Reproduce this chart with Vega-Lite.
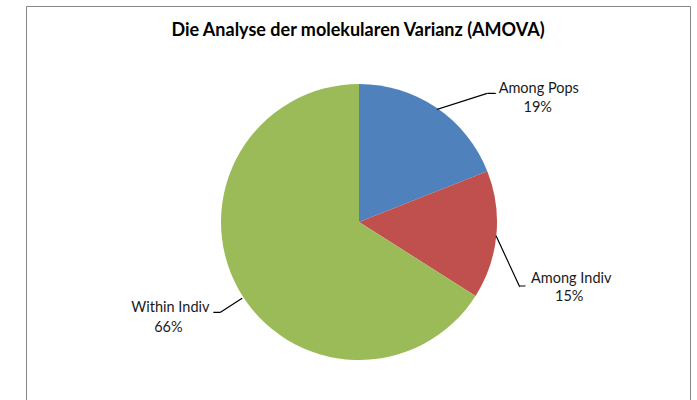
{
  "$schema": "https://vega.github.io/schema/vega-lite/v6.json",
  "autosize": {"type": "none"},
  "width": 664,
  "height": 394,
  "padding": {"left": 26, "top": 6, "right": 7, "bottom": 0},
  "background": "white",
  "view": {"stroke": "#878787", "strokeWidth": 1},
  "config": {"view": {"stroke": "#878787", "strokeWidth": 1}},
  "title": {
    "text": "Die Analyse der molekularen Varianz (AMOVA)",
    "font": "Lato",
    "fontSize": 18,
    "fontWeight": "bold",
    "color": "#000000",
    "anchor": "middle",
    "frame": "group",
    "orient": "top",
    "baseline": "middle",
    "offset": -43
  },
  "data": {
    "values": [
      {"source": "Among Pops", "share": 0.19},
      {"source": "Among Indiv", "share": 0.15},
      {"source": "Within Indiv", "share": 0.66}
    ]
  },
  "transform": [
    {"window": [{"op": "row_number", "as": "rank"}]},
    {"stack": "share", "groupby": [], "sort": [{"field": "rank", "order": "ascending"}], "as": ["s0", "s1"]}
  ],
  "layer": [
    {
      "mark": {"type": "arc", "radius": 138, "xOffset": 1, "yOffset": 19},
      "encoding": {
        "theta": {"field": "s0", "type": "quantitative"},
        "theta2": {"field": "s1"},
        "color": {
          "field": "source",
          "type": "nominal",
          "scale": {"domain": ["Among Pops", "Among Indiv", "Within Indiv"], "range": ["#4F81BD", "#C0504D", "#9BBB59"]},
          "legend": null
        }
      }
    },
    {
      "mark": {"type": "arc", "radius": 181.7, "radius2": 137.2, "padAngle": 0.7508, "thetaOffset": -0.189, "theta2Offset": 0.0672, "filled": false, "stroke": "#000000", "strokeWidth": 1.2, "strokeDash": [0, 90, 52.5, 3000], "xOffset": 1, "yOffset": 19},
      "transform": [{"filter": "datum.source === 'Among Pops'"}],
      "encoding": {"theta": {"field": "s0", "type": "quantitative"}, "theta2": {"field": "s1"}}
    },
    {
      "mark": {"type": "arc", "radius": 187.2, "radius2": 181.7, "padAngle": 1.032, "thetaOffset": -0.1292, "theta2Offset": 0.377, "filled": false, "stroke": "#000000", "strokeWidth": 1.2, "strokeDash": [0, 34.26, 7.7, 3000], "xOffset": 1, "yOffset": 19},
      "transform": [{"filter": "datum.source === 'Among Pops'"}],
      "encoding": {"theta": {"field": "s0", "type": "quantitative"}, "theta2": {"field": "s1"}}
    },
    {
      "mark": {"type": "arc", "radius": 172.6, "radius2": 137.7, "padAngle": 1.1338, "thetaOffset": -0.6859, "theta2Offset": 0.5716, "filled": false, "stroke": "#000000", "strokeWidth": 1.2, "strokeDash": [0, 118.2, 55.4, 3000], "xOffset": 1, "yOffset": 19},
      "transform": [{"filter": "datum.source === 'Among Indiv'"}],
      "encoding": {"theta": {"field": "s0", "type": "quantitative"}, "theta2": {"field": "s1"}}
    },
    {
      "mark": {"type": "arc", "radius": 177.9, "radius2": 172.6, "padAngle": 0.5223, "thetaOffset": 1.277, "theta2Offset": -0.5655, "filled": false, "stroke": "#000000", "strokeWidth": 1.2, "strokeDash": [0, 29.14, 5.7, 3000], "xOffset": 1, "yOffset": 19},
      "transform": [{"filter": "datum.source === 'Among Indiv'"}],
      "encoding": {"theta": {"field": "s0", "type": "quantitative"}, "theta2": {"field": "s1"}}
    },
    {
      "mark": {"type": "arc", "radius": 165.8, "radius2": 140, "thetaOffset": 1.9984, "theta2Offset": -2.1485, "filled": false, "stroke": "#000000", "strokeWidth": 1.2, "xOffset": 1, "yOffset": 19},
      "transform": [{"filter": "datum.source === 'Within Indiv'"}],
      "encoding": {"theta": {"field": "s0", "type": "quantitative"}, "theta2": {"field": "s1"}}
    },
    {
      "mark": {"type": "arc", "radius": 171.4, "radius2": 165.8, "padAngle": 0.7767, "thetaOffset": 1.2761, "theta2Offset": -1.5708, "filled": false, "stroke": "#000000", "strokeWidth": 1.2, "strokeDash": [0, 32.6, 6.65, 3000], "xOffset": 1, "yOffset": 19},
      "transform": [{"filter": "datum.source === 'Within Indiv'"}],
      "encoding": {"theta": {"field": "s0", "type": "quantitative"}, "theta2": {"field": "s1"}}
    },
    {
      "mark": {"type": "text", "radius": 165, "xOffset": 1, "yOffset": 19, "dx": 87, "dy": 3, "font": "Lato", "fontSize": 14.5, "color": "#1a1a1a", "align": "center", "baseline": "middle"},
      "encoding": {
        "theta": {"field": "share", "type": "quantitative", "stack": true},
        "order": {"field": "rank", "type": "quantitative", "sort": "ascending"},
        "detail": {"field": "source", "type": "nominal"},
        "text": {"condition": {"test": "datum.source === 'Among Pops'", "field": "source"}, "value": ""}
      }
    },
    {
      "mark": {"type": "text", "radius": 165, "xOffset": 1, "yOffset": 19, "dx": 86, "dy": 22, "font": "Lato", "fontSize": 14.5, "color": "#1a1a1a", "align": "center", "baseline": "middle"},
      "encoding": {
        "theta": {"field": "share", "type": "quantitative", "stack": true},
        "order": {"field": "rank", "type": "quantitative", "sort": "ascending"},
        "detail": {"field": "source", "type": "nominal"},
        "text": {"condition": {"test": "datum.source === 'Among Pops'", "field": "share", "format": ".0%"}, "value": ""}
      }
    },
    {
      "mark": {"type": "text", "radius": 165, "xOffset": 1, "yOffset": 19, "dx": 48, "dy": 41, "font": "Lato", "fontSize": 14.5, "color": "#1a1a1a", "align": "center", "baseline": "middle"},
      "encoding": {
        "theta": {"field": "share", "type": "quantitative", "stack": true},
        "order": {"field": "rank", "type": "quantitative", "sort": "ascending"},
        "detail": {"field": "source", "type": "nominal"},
        "text": {"condition": {"test": "datum.source === 'Among Indiv'", "field": "source"}, "value": ""}
      }
    },
    {
      "mark": {"type": "text", "radius": 165, "xOffset": 1, "yOffset": 19, "dx": 46, "dy": 59, "font": "Lato", "fontSize": 14.5, "color": "#1a1a1a", "align": "center", "baseline": "middle"},
      "encoding": {
        "theta": {"field": "share", "type": "quantitative", "stack": true},
        "order": {"field": "rank", "type": "quantitative", "sort": "ascending"},
        "detail": {"field": "source", "type": "nominal"},
        "text": {"condition": {"test": "datum.source === 'Among Indiv'", "field": "share", "format": ".0%"}, "value": ""}
      }
    },
    {
      "mark": {"type": "text", "radius": 165, "xOffset": 1, "yOffset": 19, "dx": -44, "dy": 7, "font": "Lato", "fontSize": 14.5, "color": "#1a1a1a", "align": "center", "baseline": "middle"},
      "encoding": {
        "theta": {"field": "share", "type": "quantitative", "stack": true},
        "order": {"field": "rank", "type": "quantitative", "sort": "ascending"},
        "detail": {"field": "source", "type": "nominal"},
        "text": {"condition": {"test": "datum.source === 'Within Indiv'", "field": "source"}, "value": ""}
      }
    },
    {
      "mark": {"type": "text", "radius": 165, "xOffset": 1, "yOffset": 19, "dx": -46, "dy": 27, "font": "Lato", "fontSize": 14.5, "color": "#1a1a1a", "align": "center", "baseline": "middle"},
      "encoding": {
        "theta": {"field": "share", "type": "quantitative", "stack": true},
        "order": {"field": "rank", "type": "quantitative", "sort": "ascending"},
        "detail": {"field": "source", "type": "nominal"},
        "text": {"condition": {"test": "datum.source === 'Within Indiv'", "field": "share", "format": ".0%"}, "value": ""}
      }
    }
  ]
}
